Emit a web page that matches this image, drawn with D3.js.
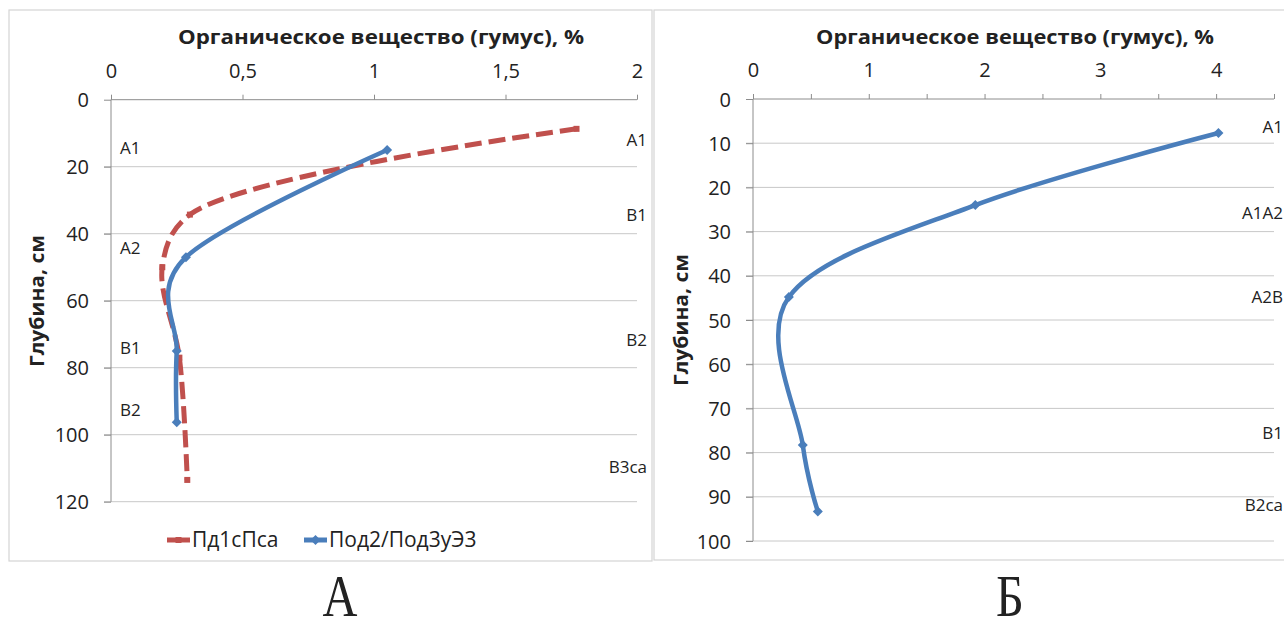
<!DOCTYPE html>
<html>
<head>
<meta charset="utf-8">
<script src="https://cdn.jsdelivr.net/npm/d3@7"></script>
<style>
  html, body { margin: 0; padding: 0; background: #fff; }
  svg { display: block; }
  text { font-family: "Open Sans", "Noto Sans", sans-serif; fill: #222; }
</style>
</head>
<body>
<svg id="chart" width="1284" height="620"></svg>
<script>
// Humus (organic matter) profiles by depth

// Panel А
const humusTicksA = [0, 0.5, 1, 1.5, 2];
const humusLabelsA = ["0", "0,5", "1", "1,5", "2"];
const depthTicksA = [0, 20, 40, 60, 80, 100, 120];

const seriesNamesA = ["Пд1сПса", "Под2/Под3уЭ3"];
const depthPd1 = [8.7, 34.3, 50, 77, 113.5];
const humusPd1 = [1.77, 0.30, 0.195, 0.26, 0.29];
const depthPod2 = [15, 47, 75, 96.3];
const humusPod2 = [1.05, 0.285, 0.25, 0.25];

const horizonsALeft = ["A1", "A2", "B1", "B2"];
const horizonDepthsALeft = [14.4, 44.3, 74.1, 92.6];
const horizonsARight = ["A1", "B1", "B2", "B3ca"];
const horizonDepthsARight = [12, 34.4, 71.7, 109.6];

// Panel Б
const humusTicksB = [0, 0.5, 1, 1.5, 2, 2.5, 3, 3.5, 4, 4.5];
const humusLabelsB = ["0", "", "1", "", "2", "", "3", "", "4", ""];
const depthTicksB = [0, 10, 20, 30, 40, 50, 60, 70, 80, 90, 100];

const depthB = [7.7, 24, 44.8, 78.3, 93.3];
const humusB = [4.02, 1.92, 0.31, 0.43, 0.56];

const horizonsB = ["A1", "A1A2", "A2B", "B1", "B2ca"];
const horizonDepthsB = [6.3, 25.8, 44.8, 75.6, 91.9];

const axisTitleX = "Органическое вещество (гумус), %";
const axisTitleY = "Глубина, см";
const panelCaptions = ["А", "Б"];

const RED = "#c0504d";
const BLUE = "#4a7ebb";
const GRID = "#c8c8c8";
const AXIS = "#8c8c8c";

const svg = d3.select("#chart");

function diamond(g, x, y, color, r) {
  g.append("path")
    .attr("d", `M${x},${y - r}L${x + r},${y}L${x},${y + r}L${x - r},${y}Z`)
    .attr("fill", color);
}

function drawPanel(cfg) {
  const g = svg.append("g");

  // frame
  g.append("rect")
    .attr("x", cfg.frame[0]).attr("y", cfg.frame[1])
    .attr("width", cfg.frame[2]).attr("height", cfg.frame[3])
    .attr("fill", "#fff").attr("stroke", "#d4d4d4").attr("stroke-width", 1.2);

  const x = d3.scaleLinear().domain(cfg.xDomain).range(cfg.xRange);
  const y = d3.scaleLinear().domain(cfg.yDomain).range(cfg.yRange);

  // horizontal gridlines
  g.append("g").selectAll("line").data(cfg.yTicks.filter(d => d > 0)).join("line")
    .attr("x1", cfg.xRange[0] - 7).attr("x2", cfg.xRange[1])
    .attr("y1", d => y(d)).attr("y2", d => y(d))
    .attr("stroke", GRID).attr("stroke-width", 1);

  // top x axis
  const xAxis = d3.axisTop(x).tickValues(cfg.xTicks).tickSize(6)
    .tickFormat((d, i) => cfg.xLabels[i]);
  const gx = g.append("g").attr("transform", `translate(0,${y(0)})`).call(xAxis);
  gx.select(".domain").attr("stroke", AXIS).attr("d", `M${cfg.xRange[0]},0H${cfg.xRange[1]}`);
  gx.selectAll(".tick line").attr("stroke", AXIS).attr("y1", 0).attr("y2", -5);
  gx.selectAll(".tick text").attr("y", -22).attr("dy", 0)
    .style("font-size", "20px").style("font-family", "'Open Sans', sans-serif").attr("fill", "#333");

  // left y axis
  const yAxis = d3.axisLeft(y).tickValues(cfg.yTicks).tickSize(7).tickFormat(d3.format("d"));
  const gy = g.append("g").attr("transform", `translate(${cfg.xRange[0]},0)`).call(yAxis);
  gy.select(".domain").attr("stroke", AXIS).attr("d", `M0,${cfg.yRange[0]}V${cfg.yRange[1]}`);
  gy.selectAll(".tick line").attr("stroke", AXIS);
  gy.selectAll(".tick text").attr("x", -22).attr("dy", "0.35em")
    .style("font-size", "20px").style("font-family", "'Open Sans', sans-serif").attr("fill", "#333");

  // axis titles
  g.append("text")
    .attr("x", cfg.titleX[0]).attr("y", cfg.titleX[1])
    .attr("text-anchor", "middle").attr("font-weight", "bold").attr("font-size", 19)
    .attr("textLength", cfg.titleX[2]).attr("lengthAdjust", "spacingAndGlyphs")
    .attr("fill", "#111").text(axisTitleX);
  g.append("text")
    .attr("transform", `translate(${cfg.titleY[0]},${cfg.titleY[1]}) rotate(-90)`)
    .attr("text-anchor", "middle").attr("dy", "0.35em")
    .attr("font-weight", "bold").attr("font-size", 19)
    .attr("textLength", 132).attr("lengthAdjust", "spacingAndGlyphs")
    .attr("fill", "#111").text(axisTitleY);

  // horizon labels
  (cfg.horizons || []).forEach(h => {
    g.append("g").selectAll("text").data(h.names).join("text")
      .attr("x", h.x).attr("y", (d, i) => y(h.depths[i]))
      .attr("dy", "0.35em").attr("text-anchor", h.anchor)
      .attr("font-size", 17).attr("fill", "#333").text(d => d);
  });

  // series
  cfg.series.forEach(s => {
    const line = d3.line().curve(s.curve)
      .x(d => x(d[0])).y(d => y(d[1]));
    const pts = s.humus.map((v, i) => [v, s.depth[i]]);
    g.append("path").datum(pts)
      .attr("d", line).attr("fill", "none")
      .attr("stroke", s.color).attr("stroke-width", s.width)
      .attr("stroke-dasharray", s.dash || null)
      .attr("stroke-linecap", "butt").attr("stroke-linejoin", "round");
    pts.forEach(p => {
      if (s.marker === "diamond") diamond(g, x(p[0]), y(p[1]), s.color, 5);
      else if (s.marker === "square") g.append("rect").attr("x", x(p[0]) - 3).attr("y", y(p[1]) - 3)
        .attr("width", 6).attr("height", 6).attr("fill", s.color);
    });
  });

  return g;
}

const smooth = d3.curveCardinal.tension(0);

// Panel А
const gA = drawPanel({
  frame: [9, 10, 643, 551],
  xDomain: [0, 2], xRange: [111, 637],
  yDomain: [0, 120], yRange: [99.7, 501.7],
  xTicks: humusTicksA, xLabels: humusLabelsA, yTicks: depthTicksA,
  titleX: [381, 44, 406], titleY: [37, 301],
  horizons: [
    { names: horizonsALeft, depths: horizonDepthsALeft, x: 120, anchor: "start" },
    { names: horizonsARight, depths: horizonDepthsARight, x: 647, anchor: "end" }
  ],
  series: [
    { depth: depthPd1, humus: humusPd1, color: RED, width: 5, dash: "17,7", marker: "square",
      curve: d3.curveCatmullRom.alpha(0.5) },
    { depth: depthPod2, humus: humusPod2, color: BLUE, width: 4.5, marker: "diamond", curve: smooth }
  ]
});

// legend for panel А
const legend = gA.append("g");
const legendItems = [
  { name: seriesNamesA[0], color: RED, x: 167, marker: "square" },
  { name: seriesNamesA[1], color: BLUE, x: 304, marker: "diamond" }
];
legendItems.forEach(it => {
  legend.append("line").attr("x1", it.x).attr("x2", it.x + 23)
    .attr("y1", 540).attr("y2", 540).attr("stroke", it.color).attr("stroke-width", 5);
  if (it.marker === "diamond") diamond(legend, it.x + 11.5, 540, it.color, 5);
  else legend.append("rect").attr("x", it.x + 8.5).attr("y", 537).attr("width", 6).attr("height", 6).attr("fill", it.color);
  legend.append("text").attr("x", it.x + 25).attr("y", 540).attr("dy", "0.35em")
    .attr("font-size", 21).attr("fill", "#222").text(it.name);
});

// Panel Б
drawPanel({
  frame: [654, 10, 640, 550],
  xDomain: [0, 4.5], xRange: [753, 1274],
  yDomain: [0, 100], yRange: [99, 541],
  xTicks: humusTicksB, xLabels: humusLabelsB, yTicks: depthTicksB,
  titleX: [1015, 44, 398], titleY: [681, 320],
  horizons: [
    { names: horizonsB, depths: horizonDepthsB, x: 1283, anchor: "end" }
  ],
  series: [
    { depth: depthB, humus: humusB, color: BLUE, width: 4.5, marker: "diamond", curve: smooth }
  ]
});

// panel captions
svg.selectAll("text.caption").data(panelCaptions).join("text")
  .attr("class", "caption")
  .attr("transform", (d, i) => `translate(${[340, 1010][i]},616) scale(0.82,1)`)
  .attr("text-anchor", "middle")
  .style("font-family", "'Liberation Serif', 'DejaVu Serif', serif")
  .attr("font-size", 59).attr("fill", "#111").text(d => d);
</script>
</body>
</html>
